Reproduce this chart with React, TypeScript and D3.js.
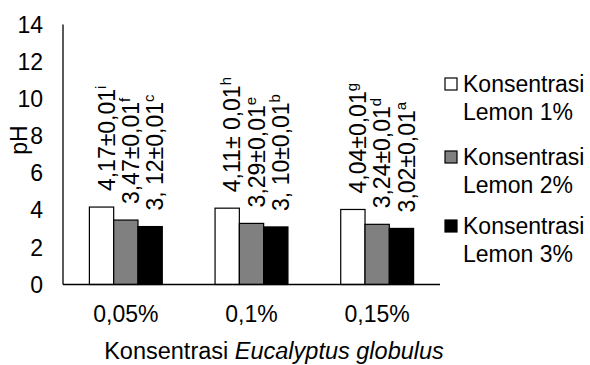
import React from "react";
import * as d3 from "d3";

const categories = ["0,05%", "0,1%", "0,15%"];
const seriesNames = ["Konsentrasi Lemon 1%", "Konsentrasi Lemon 2%", "Konsentrasi Lemon 3%"];
const lemon1 = [4.17, 4.11, 4.04];
const lemon2 = [3.47, 3.29, 3.24];
const lemon3 = [3.12, 3.1, 3.02];
const labels1 = ["4,17±0,01", "4,11± 0,01", "4,04±0,01"];
const labels2 = ["3,47±0,01", "3,29±0,01", "3,24±0,01"];
const labels3 = ["3, 12±0,01", "3, 10±0,01", "3,02±0,01"];
const sup1 = ["i", "h", "g"];
const sup2 = ["f", "e", "d"];
const sup3 = ["c", "b", "a"];
const yTicks = [0, 2, 4, 6, 8, 10, 12, 14];
const legendLines = [["Konsentrasi", "Lemon 1%"], ["Konsentrasi", "Lemon 2%"], ["Konsentrasi", "Lemon 3%"]];

const seriesValues = [lemon1, lemon2, lemon3];
const seriesLabels = [labels1, labels2, labels3];
const seriesSups = [sup1, sup2, sup3];
const fills = ["#ffffff", "#808080", "#000000"];

const FONT = "Arial, 'Liberation Sans', sans-serif";

export default function App() {
  const W = 590, H = 365;
  const left = 63, right = 440, top = 24.5, bottom = 284.5;
  const x0 = d3.scaleBand<string>().domain(categories).range([left, right]).paddingInner(0.42).paddingOuter(0.21);
  const x1 = d3.scaleBand<string>().domain(seriesNames).range([0, x0.bandwidth()]);
  const y = d3.scaleLinear().domain([0, 14]).range([bottom, top]);

  const legendY = [84, 157, 226];

  return (
    <svg width={W} height={H} style={{ position: "absolute", left: 0, top: 0, background: "#fff" }} fontFamily={FONT}>
      <rect x={0} y={0} width={W} height={H} fill="#fff" />
      {/* y tick labels */}
      {yTicks.map((t) => (
        <text key={t} x={43} y={y(t)} dy="0.36em" textAnchor="end" fontSize={23} fill="#000">
          {t}
        </text>
      ))}
      {/* bars */}
      {categories.map((c, ci) =>
        seriesNames.map((s, si) => {
          const v = seriesValues[si][ci];
          const bx = (x0(c) as number) + (x1(s) as number);
          const bw = x1.bandwidth();
          return (
            <rect key={c + s} x={bx} y={y(v)} width={bw} height={y(0) - y(v)} fill={fills[si]} stroke="#000" strokeWidth={1.2} />
          );
        })
      )}
      {/* data labels */}
      {categories.map((c, ci) =>
        seriesNames.map((s, si) => {
          const v = seriesValues[si][ci];
          const bx = (x0(c) as number) + (x1(s) as number);
          const bw = x1.bandwidth();
          const tx = bx + bw + 1;
          const ty = y(v) - 16;
          return (
            <text key={"l" + c + s} transform={`translate(${tx},${ty}) rotate(-90)`} fontSize={23} fill="#000">
              {seriesLabels[si][ci]}
              <tspan fontSize={15} dy={-9}>{seriesSups[si][ci]}</tspan>
            </text>
          );
        })
      )}
      {/* axes */}
      <line x1={left} x2={left} y1={top} y2={bottom} stroke="#000" strokeWidth={1.3} />
      <line x1={left} x2={right} y1={bottom} y2={bottom} stroke="#000" strokeWidth={1.3} />
      {/* x tick labels */}
      {categories.map((c) => (
        <text key={c} x={(x0(c) as number) + x0.bandwidth() / 2} y={322} textAnchor="middle" fontSize={23} fill="#000">
          {c}
        </text>
      ))}
      {/* axis titles */}
      <text x={274} y={359} textAnchor="middle" fontSize={23.5} fill="#000">
        Konsentrasi <tspan fontStyle="italic">Eucalyptus globulus</tspan>
      </text>
      <text transform="translate(27,140) rotate(-90)" textAnchor="middle" fontSize={23} fill="#000">
        pH
      </text>
      {/* legend */}
      {seriesNames.map((s, i) => (
        <g key={s}>
          <rect x={445} y={legendY[i] - 6} width={12} height={12} fill={fills[i]} stroke="#000" strokeWidth={1.2} />
          <text x={463} y={legendY[i] + 8} fontSize={23} fill="#000">
            {legendLines[i][0]}
          </text>
          <text x={463} y={legendY[i] + 36} fontSize={23} fill="#000">
            {legendLines[i][1]}
          </text>
        </g>
      ))}
    </svg>
  );
}
